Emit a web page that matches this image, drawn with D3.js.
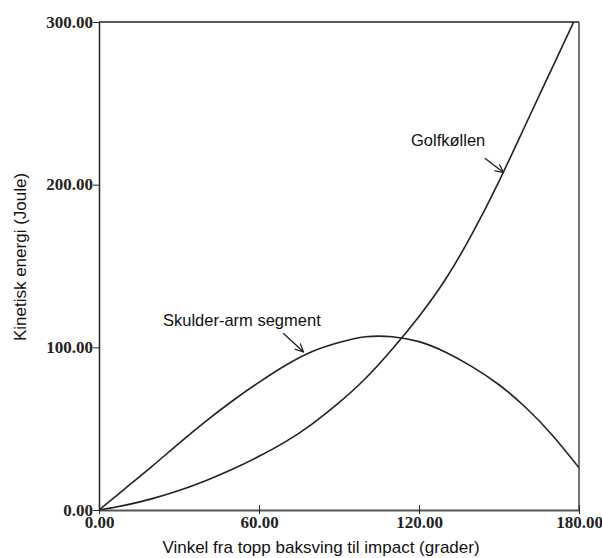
<!DOCTYPE html>
<html>
<head>
<meta charset="utf-8">
<script src="https://cdn.jsdelivr.net/npm/d3@7"></script>
<style>
  html, body { margin: 0; padding: 0; background: #fff; }
  svg { display: block; }
</style>
</head>
<body>
<svg id="chart" width="602" height="558"></svg>
<script>
// ---- data ----
const angles = [0, 10, 20, 30, 40, 50, 60, 70, 80, 90, 100, 110, 120, 130, 140, 150, 160, 170, 180];
const golfkollen = [0, 3, 7, 12, 18, 25, 33, 42, 53, 66, 81, 99, 119, 142, 170, 202, 237, 272, 307];
const skulderArm = [0, 13.5, 27, 41, 54.5, 67, 78.5, 89, 97.5, 103, 106.5, 106.5, 103.5, 97, 88, 77, 63, 46, 26];
const xTicks = [0, 60, 120, 180];
const yTicks = [0, 100, 200, 300];
const xTitle = "Vinkel fra topp baksving til impact (grader)";
const yTitle = "Kinetisk energi (Joule)";
const labels = ["Skulder-arm segment", "Golfkøllen"];
const labelPos = [[24, 113], [117, 224]];          // [angle, value] text anchor
const arrowTail = [[69.1, 108.6], [144.7, 216.2]];  // [angle, value]
const arrowTip = [[76.6, 97.3], [151.6, 207.6]];    // [angle, value]

// ---- layout ----
const W = 602, H = 558;
const m = { left: 99, right: 23, top: 22, bottom: 48 };
const svg = d3.select("#chart");

const x = d3.scaleLinear().domain([0, 180]).range([m.left, W - m.right]);
const y = d3.scaleLinear().domain([0, 300]).range([H - m.bottom, m.top]);

const ink = "#222";
const serif = "'Liberation Serif', 'DejaVu Serif', serif";
const sans = "'Liberation Sans', Arial, sans-serif";

svg.append("defs").append("clipPath").attr("id", "plotclip")
  .append("rect").attr("x", m.left).attr("y", m.top)
  .attr("width", W - m.left - m.right).attr("height", H - m.top - m.bottom);

const marker = svg.select("defs").append("marker")
  .attr("id", "arrow").attr("viewBox", "0 0 10 10")
  .attr("refX", 9).attr("refY", 5)
  .attr("markerWidth", 9).attr("markerHeight", 9)
  .attr("markerUnits", "userSpaceOnUse")
  .attr("orient", "auto");
marker.append("path").attr("d", "M0,0.5 L9.5,5 L0,9.5")
  .attr("fill", "none").attr("stroke", ink).attr("stroke-width", 1.4);

// frame (top and right sides)
svg.append("line").attr("x1", x(0)).attr("x2", x(180)).attr("y1", y(300)).attr("y2", y(300))
  .attr("stroke", ink).attr("stroke-width", 1.5);
svg.append("line").attr("x1", x(180)).attr("x2", x(180)).attr("y1", y(300)).attr("y2", y(0))
  .attr("stroke", "#444").attr("stroke-width", 1.5);

// axes
const xAxis = d3.axisBottom(x).tickValues(xTicks).tickFormat(d3.format(".2f")).tickSizeInner(4).tickSizeOuter(0);
const yAxis = d3.axisLeft(y).tickValues(yTicks).tickFormat(d3.format(".2f")).tickSizeInner(6).tickSizeOuter(0);

const gx = svg.append("g").attr("transform", `translate(0,${y(0)})`).call(xAxis);
gx.select(".domain").attr("stroke", "#555").attr("stroke-width", 2);
gx.selectAll(".tick line").attr("stroke", ink).attr("stroke-width", 1).attr("y1", -5);
gx.selectAll(".tick text").attr("fill", "#222").attr("font-family", serif)
  .attr("font-weight", "bold").attr("font-size", 17).attr("dy", "0.66em").attr("y", 7);

const gy = svg.append("g").attr("transform", `translate(${x(0)},0)`).call(yAxis);
gy.select(".domain").attr("stroke", ink).attr("stroke-width", 1.5);
gy.selectAll(".tick line").attr("stroke", ink).attr("stroke-width", 1);
gy.selectAll(".tick text").attr("fill", "#222").attr("font-family", serif)
  .attr("font-weight", "bold").attr("font-size", 17).attr("x", -6).attr("dy", "0.3em");

// curves
const line = d3.line().x(d => x(d[0])).y(d => y(d[1])).curve(d3.curveNatural);
const series = [skulderArm, golfkollen];
svg.append("g").attr("clip-path", "url(#plotclip)")
  .selectAll("path").data(series).join("path")
  .attr("d", s => line(angles.map((a, i) => [a, s[i]])))
  .attr("fill", "none").attr("stroke", ink).attr("stroke-width", 1.6);

// annotations
svg.append("g").selectAll("text").data(labels).join("text")
  .attr("x", (d, i) => x(labelPos[i][0])).attr("y", (d, i) => y(labelPos[i][1]))
  .attr("font-family", sans).attr("font-size", 16.5).attr("fill", "#111")
  .text(d => d);

svg.append("g").selectAll("line").data(labels).join("line")
  .attr("x1", (d, i) => x(arrowTail[i][0])).attr("y1", (d, i) => y(arrowTail[i][1]))
  .attr("x2", (d, i) => x(arrowTip[i][0])).attr("y2", (d, i) => y(arrowTip[i][1]))
  .attr("stroke", ink).attr("stroke-width", 1.4).attr("marker-end", "url(#arrow)");

// axis titles
svg.append("text").attr("x", 321).attr("y", 553).attr("text-anchor", "middle")
  .attr("font-family", sans).attr("font-size", 17).attr("fill", "#111").text(xTitle);
svg.append("text").attr("transform", `translate(26,${257}) rotate(-90)`).attr("text-anchor", "middle")
  .attr("font-family", sans).attr("font-size", 17).attr("fill", "#111").text(yTitle);
</script>
</body>
</html>
